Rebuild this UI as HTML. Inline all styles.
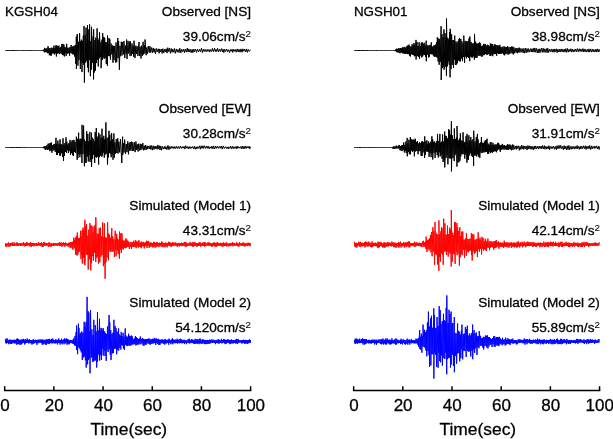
<!DOCTYPE html>
<html><head><meta charset="utf-8"><style>
html,body{margin:0;padding:0;background:#fff;}
body{width:613px;height:439px;overflow:hidden;position:relative;font-family:"Liberation Sans",sans-serif;}
svg{position:absolute;left:0;top:0;will-change:transform;}
text{font-family:"Liberation Sans",sans-serif;fill:#000;stroke:#000;stroke-width:0.3px;}
</style></head><body>
<svg width="613" height="439" viewBox="0 0 613 439">

<text x="5.0" y="16.4" font-size="13.4">KGSH04</text>
<polyline points="5.30,50.50 6.47,50.50 7.83,50.50 8.86,50.50 9.71,50.50 10.89,50.50 11.84,50.50 12.93,50.50 14.12,50.50 14.90,50.50 15.81,50.50 16.79,50.50 17.61,50.50 18.43,50.50 19.38,50.50 20.39,50.50 21.08,50.50 21.75,50.50 22.79,50.50 23.82,50.50 24.65,50.50 25.47,50.50 26.15,50.50 26.96,50.50 27.78,50.50 28.40,50.50 29.19,50.50 30.03,50.50 30.86,50.50 31.68,50.50 32.22,50.50 32.74,50.50 33.28,50.50 34.07,50.50 34.54,50.50 35.17,50.50 35.78,50.50 36.50,50.50 37.16,50.50 37.79,50.50 38.23,50.50 38.69,50.50 39.24,50.50 39.64,50.50 40.06,50.50 40.47,50.50 40.86,50.50 41.26,50.50 41.65,50.50 42.18,50.57 42.59,49.98 43.11,51.06 43.66,49.60 44.27,52.25 44.73,47.86 45.24,52.27 45.86,48.66 46.30,52.18 46.87,48.32 47.44,53.16 48.04,46.22 48.52,52.94 48.90,47.87 49.29,55.19 49.90,48.43 50.42,55.47 50.90,48.38 51.36,55.50 51.80,47.57 52.34,53.40 52.90,48.05 53.42,53.39 53.96,45.64 54.42,54.42 54.86,47.88 55.47,53.26 55.87,45.36 56.37,56.47 56.81,45.44 57.20,53.82 57.76,45.99 58.32,53.14 58.90,45.63 59.31,54.16 59.71,47.88 60.19,53.21 60.66,46.96 61.26,53.71 61.81,43.97 62.40,55.04 62.96,43.89 63.39,55.25 63.92,44.65 64.40,56.45 64.79,46.90 65.31,53.44 65.76,47.58 66.19,55.94 66.66,43.78 67.24,53.75 67.83,47.70 68.39,53.25 68.98,47.78 69.60,55.65 70.02,47.11 70.49,52.94 71.10,45.06 71.71,53.36 72.29,46.64 72.71,54.24 73.20,46.30 73.61,54.47 74.14,45.73 74.69,56.62 75.29,44.95 75.85,63.97 76.34,36.62 76.40,69.00 77.20,34.00 77.95,65.61 78.44,41.80 78.90,59.99 79.60,33.20 80.36,69.00 80.41,41.11 81.01,62.41 81.40,39.72 82.02,72.08 82.49,40.75 82.86,62.97 83.31,35.72 83.79,64.61 84.00,26.00 84.40,82.60 85.21,34.82 85.75,62.58 86.00,27.60 86.72,60.77 87.50,25.20 87.55,67.40 87.94,40.15 88.41,72.26 88.84,29.39 89.33,59.88 89.60,24.40 90.40,76.20 90.76,41.00 91.37,69.63 91.50,26.80 92.55,62.89 93.10,36.44 93.55,79.40 93.60,29.20 94.32,72.60 94.90,40.06 95.50,70.60 95.75,37.62 96.37,63.07 97.10,28.40 97.41,60.09 97.80,38.20 98.28,66.48 98.77,40.28 99.34,58.34 99.50,32.40 100.50,57.04 100.96,42.28 101.10,68.20 101.94,39.67 102.32,59.98 102.70,33.20 103.21,57.66 103.75,36.96 104.24,58.89 104.67,37.76 105.24,58.06 105.77,41.95 106.27,64.14 106.80,42.45 107.45,65.80 107.50,35.50 108.34,56.02 109.00,38.00 109.23,56.21 109.81,39.36 110.43,59.64 111.09,43.53 111.80,54.41 112.30,45.27 113.00,62.70 113.45,45.88 113.99,60.13 114.70,45.89 115.53,62.46 116.05,42.40 116.69,62.26 117.80,38.00 118.01,58.17 118.62,41.01 119.40,69.80 119.95,45.84 120.59,56.21 121.29,41.73 122.00,55.51 122.60,42.00 123.41,54.33 123.98,41.04 124.81,58.06 125.62,45.56 126.18,53.81 126.60,39.50 127.00,59.00 128.00,40.88 128.69,53.54 129.37,41.90 130.07,56.14 130.12,41.00 131.35,55.64 132.01,43.45 132.56,53.86 133.09,45.80 133.71,56.87 134.00,40.70 135.00,58.00 135.84,45.65 136.45,54.03 137.13,46.23 137.92,55.87 139.00,42.00 139.39,56.06 140.10,46.72 141.00,58.50 141.63,45.64 142.30,56.04 143.13,41.85 143.67,54.46 144.42,45.01 144.97,53.43 145.02,39.50 146.17,55.20 146.78,47.39 147.38,53.71 148.29,46.15 149.18,52.70 149.90,46.11 150.76,52.65 151.73,47.52 152.52,52.64 153.29,48.02 154.08,52.37 154.80,48.80 155.48,53.81 156.35,48.40 157.29,51.89 158.23,48.79 159.11,53.32 159.76,48.91 160.60,51.96 161.42,49.05 162.18,53.48 162.84,48.63 163.80,52.95 164.86,49.20 165.53,51.93 166.20,48.81 167.09,53.12 167.80,47.65 168.74,51.64 169.63,48.19 170.43,53.34 171.37,48.53 172.05,52.29 172.70,49.17 173.68,52.27 174.43,48.43 175.29,53.35 176.35,48.96 177.19,52.23 178.03,49.44 178.97,52.62 179.76,48.21 180.82,52.91 181.72,49.23 182.74,51.68 183.77,49.20 184.43,52.76 185.37,49.22 186.30,52.11 187.29,48.15 188.03,51.98 188.69,48.91 189.59,51.97 190.30,49.39 191.16,52.70 192.15,49.33 192.83,52.73 193.75,49.25 194.41,51.74 195.41,49.00 196.45,52.43 197.48,49.17 198.55,51.89 199.40,49.31 200.43,51.69 201.51,48.16 202.42,52.71 203.37,49.24 204.16,51.54 205.16,49.33 206.21,51.76 207.15,49.42 207.92,51.40 208.95,49.47 209.72,52.09 210.62,49.57 211.68,51.59 212.40,48.35 213.47,51.68 214.55,48.34 215.28,51.53 215.99,49.35 216.76,51.64 217.57,48.28 218.63,51.78 219.68,49.18 220.55,51.54 221.60,48.57 222.44,51.84 223.13,49.30 223.81,52.55 224.65,49.22 225.64,51.52 226.59,49.00 227.70,51.79 228.54,49.69 229.54,52.60 230.46,49.45 231.25,51.30 232.07,49.28 232.77,52.42 233.46,49.26 234.31,51.31 235.14,49.45 236.17,52.23 237.14,48.90 238.24,51.96 238.98,49.27 240.06,52.25 241.00,48.89 242.04,52.24 242.86,48.85 243.91,51.26 244.68,48.96 245.71,51.97 246.64,48.94 247.46,52.28 248.31,49.45 249.34,51.33 250.40,49.72" fill="none" stroke="#000" stroke-width="1.0" stroke-linejoin="miter"/>
<text x="251.0" y="16.0" font-size="13.6" text-anchor="end">Observed [NS]</text>
<text x="251.0" y="41.3" font-size="13.6" text-anchor="end">39.06cm/s<tspan font-size="9.8" dy="-4.8" style="stroke-width:0.1px">2</tspan></text>
<polyline points="5.30,147.50 6.38,147.50 7.42,147.50 8.67,147.50 9.54,147.50 10.85,147.50 11.92,147.50 12.91,147.50 13.96,147.50 14.76,147.50 15.75,147.50 16.96,147.50 17.84,147.50 18.92,147.50 20.01,147.50 20.86,147.50 21.72,147.50 22.54,147.50 23.37,147.50 24.23,147.50 25.23,147.50 25.99,147.50 26.77,147.50 27.43,147.50 28.18,147.50 28.79,147.50 29.50,147.50 30.37,147.50 30.89,147.50 31.65,147.50 32.21,147.50 32.73,147.50 33.35,147.50 34.04,147.50 34.52,147.50 35.03,147.50 35.63,147.50 36.22,147.50 36.74,147.50 37.25,147.50 37.80,147.50 38.43,147.50 38.99,147.50 39.54,147.50 40.11,147.50 40.56,147.50 40.96,147.50 41.45,147.50 41.83,147.50 42.43,147.66 42.97,147.19 43.37,148.08 43.76,146.63 44.37,148.51 44.77,146.01 45.32,149.97 45.78,146.41 46.29,149.41 46.85,145.30 47.47,149.94 48.09,143.72 48.70,149.50 49.23,143.36 49.82,151.17 50.42,142.98 50.88,150.47 51.31,142.48 51.86,152.76 52.36,145.32 52.97,150.55 53.55,144.48 54.17,150.26 54.62,143.95 55.23,151.82 56.00,137.80 56.50,154.70 56.80,143.75 57.42,155.09 57.89,140.61 58.50,152.91 58.99,143.92 59.59,155.36 60.00,139.30 60.50,155.70 60.95,144.15 61.37,153.16 61.94,144.57 62.51,156.90 63.00,138.30 63.50,160.90 63.92,144.57 64.42,155.95 64.90,143.08 65.50,151.97 66.00,137.30 66.50,152.70 66.89,141.69 67.35,150.21 67.96,144.57 68.35,153.05 68.79,143.24 69.24,151.16 70.00,139.90 70.50,154.70 70.96,142.28 71.41,153.23 71.98,140.62 72.56,155.25 72.98,140.10 73.50,156.00 74.00,139.90 74.44,151.96 74.97,141.93 75.57,152.83 76.40,136.70 77.20,159.80 77.26,138.76 77.86,158.07 78.67,132.70 78.72,154.20 79.33,139.63 79.87,157.23 80.25,138.62 80.86,154.31 81.44,139.24 81.95,163.00 82.00,124.80 82.95,154.11 83.60,125.60 84.40,166.20 84.53,139.60 85.12,162.90 85.73,141.13 86.15,162.76 86.70,131.10 87.29,156.52 87.86,133.88 88.30,161.40 88.65,141.46 89.12,155.08 89.90,131.90 90.04,162.07 90.43,140.24 90.85,160.04 91.50,132.70 91.55,167.00 92.15,137.57 92.61,158.89 93.15,138.93 93.77,154.87 94.25,141.42 94.70,163.00 95.16,132.07 95.54,156.83 96.30,128.00 96.50,157.61 97.11,137.13 97.52,156.68 97.98,136.54 98.65,164.60 98.70,132.70 99.52,157.15 99.99,134.43 100.54,155.63 101.08,137.55 101.90,156.70 101.96,128.69 102.41,155.24 102.81,138.10 103.31,152.84 103.79,135.79 104.30,157.68 104.69,139.36 105.22,154.60 105.90,122.40 106.43,153.50 107.00,137.69 107.50,164.60 108.30,137.50 108.40,157.35 108.94,130.73 109.51,152.86 109.89,134.61 110.33,153.74 110.71,141.24 111.17,157.28 111.62,133.13 112.22,155.03 112.73,139.30 113.00,159.80 113.90,133.50 114.29,157.81 114.85,142.37 115.52,153.65 116.22,139.11 116.82,153.00 117.80,138.30 118.04,153.54 118.86,141.70 119.68,152.40 120.49,139.03 121.80,163.00 122.60,136.70 122.75,154.99 123.36,143.13 124.05,152.52 124.65,139.61 125.51,153.76 126.23,143.94 127.05,152.18 127.79,141.35 128.52,154.30 129.09,143.18 129.68,150.60 130.21,141.96 130.74,150.41 131.57,141.60 132.16,151.04 132.85,142.23 133.67,150.91 134.54,142.43 135.11,152.12 135.91,141.47 136.70,149.89 137.24,144.27 138.08,151.55 138.62,143.70 139.41,150.52 140.27,143.80 140.85,150.14 141.39,144.31 142.05,149.31 142.80,143.03 143.58,150.28 144.25,145.76 144.96,150.05 145.56,145.07 146.35,149.60 147.15,145.76 147.76,149.12 148.44,146.04 149.25,148.83 150.11,145.55 150.79,149.41 151.47,145.60 152.34,150.18 153.13,145.70 154.03,149.55 154.97,145.98 155.74,148.83 156.40,146.33 157.11,149.27 157.88,144.96 158.59,149.02 159.39,145.72 160.03,150.02 160.70,145.95 161.57,150.20 162.37,146.38 163.44,149.08 164.34,146.51 165.20,149.10 165.85,146.43 166.95,149.67 167.97,145.41 168.95,149.76 169.71,146.53 170.44,148.62 171.30,146.42 172.02,148.41 172.96,146.54 174.00,148.62 174.85,146.54 175.69,148.60 176.60,146.34 177.42,148.48 178.45,146.55 179.33,148.57 180.38,146.02 181.36,148.38 182.23,146.61 183.08,148.24 184.06,146.38 184.90,149.08 185.66,145.71 186.73,148.21 187.56,146.55 188.26,148.94 189.18,146.52 190.09,148.58 190.86,146.78 191.73,148.31 192.69,146.53 193.80,149.03 194.55,146.15 195.50,149.25 196.22,146.82 196.93,148.86 197.68,146.65 198.64,148.38 199.59,145.79 200.34,149.20 201.18,145.83 202.01,148.39 202.91,145.76 203.67,148.41 204.55,145.78 205.57,148.43 206.63,146.20 207.33,148.29 208.13,145.97 209.23,148.94 210.08,146.75 211.17,148.36 211.89,146.16 212.90,148.94 213.61,145.89 214.69,148.93 215.70,145.98 216.74,148.39 217.66,146.27 218.70,148.39 219.79,146.25 220.72,148.34 221.41,146.01 222.29,149.08 223.26,145.92 224.31,148.46 225.39,146.82 226.38,148.44 227.13,146.82 228.19,148.88 228.94,146.85 229.67,148.34 230.58,146.23 231.35,148.74 232.33,146.29 233.10,148.65 234.02,146.68 234.86,148.47 235.79,146.66 236.48,148.69 237.16,146.03 237.93,148.44 238.71,146.73 239.67,148.16 240.64,146.62 241.39,148.91 242.17,146.06 243.15,148.87 244.12,146.20 244.86,148.73 245.93,146.13 246.62,148.30 247.31,146.58 248.27,148.08 249.09,146.18 249.79,148.88 250.40,146.81" fill="none" stroke="#000" stroke-width="1.0" stroke-linejoin="miter"/>
<text x="251.0" y="113.0" font-size="13.6" text-anchor="end">Observed [EW]</text>
<text x="251.0" y="138.3" font-size="13.6" text-anchor="end">30.28cm/s<tspan font-size="9.8" dy="-4.8" style="stroke-width:0.1px">2</tspan></text>
<polyline points="5.30,243.36 5.82,246.72 6.34,243.46 6.74,246.80 7.33,243.47 7.93,245.55 8.48,242.46 8.87,246.76 9.48,243.51 9.98,246.49 10.40,243.14 10.81,245.70 11.23,243.05 11.61,245.44 12.16,242.34 12.61,245.95 13.01,243.49 13.60,245.86 14.09,242.32 14.62,245.97 15.03,243.39 15.64,245.47 16.26,243.16 16.74,245.72 17.12,242.15 17.67,245.89 18.16,243.51 18.57,245.59 19.16,243.18 19.57,245.53 20.17,243.12 20.69,245.90 21.18,243.22 21.70,245.69 22.30,243.43 22.79,245.48 23.38,242.17 23.77,245.63 24.26,243.25 24.84,246.46 25.34,243.21 25.93,246.02 26.47,242.07 27.09,246.03 27.51,242.64 28.11,245.43 28.57,243.54 29.09,245.52 29.67,242.89 30.08,246.35 30.59,242.34 31.09,246.91 31.55,243.20 32.07,245.84 32.59,243.10 32.98,245.66 33.39,243.08 33.92,246.38 34.44,243.30 35.00,245.47 35.57,243.51 36.05,246.08 36.43,243.12 36.87,245.85 37.49,243.57 38.03,245.75 38.46,242.11 39.03,245.57 39.55,243.26 39.95,245.56 40.40,243.09 40.95,246.10 41.51,242.12 42.08,246.92 42.55,243.51 43.03,246.96 43.62,242.06 44.14,246.03 44.74,242.51 45.34,245.78 45.88,243.06 46.36,245.52 46.97,242.99 47.44,245.56 47.95,243.30 48.56,246.95 49.01,242.14 49.40,245.66 49.88,243.03 50.35,246.66 50.97,243.50 51.37,246.43 51.77,243.36 52.29,245.65 52.85,243.51 53.26,246.01 53.63,242.98 54.23,245.64 54.62,243.41 55.09,245.61 55.51,243.19 56.11,245.49 56.55,243.54 56.98,245.82 57.45,243.16 57.92,245.53 58.52,242.91 58.96,245.50 59.54,242.38 59.94,246.00 60.40,242.76 60.89,245.91 61.42,242.47 61.95,246.84 62.41,243.19 62.95,245.85 63.45,242.22 63.99,245.50 64.50,243.15 64.89,246.65 65.47,242.43 65.96,245.58 66.56,243.42 67.03,245.87 67.57,243.49 68.08,246.66 68.57,242.76 69.03,246.44 69.60,242.69 70.14,247.94 70.59,242.39 71.02,246.93 71.53,241.98 72.01,248.22 72.46,241.79 72.90,249.70 73.90,237.50 74.10,248.22 74.70,239.82 75.56,254.40 75.61,237.59 75.99,254.72 76.61,235.89 77.07,255.57 77.30,232.50 77.91,254.51 78.37,237.95 78.86,251.92 79.36,237.94 79.74,251.81 80.60,230.80 80.93,258.86 81.35,236.55 81.79,254.67 82.17,229.83 82.30,263.60 83.08,227.52 83.48,257.77 83.94,229.98 84.33,263.56 84.90,219.80 84.95,265.30 85.80,226.10 86.35,254.44 86.50,224.00 87.35,254.88 87.82,235.77 88.20,269.60 88.80,229.61 89.35,259.30 89.90,223.20 90.80,270.40 90.98,225.30 91.56,263.24 92.05,225.95 92.54,256.25 92.97,231.95 93.40,260.60 94.02,226.48 94.51,252.75 95.02,224.83 95.75,262.00 95.80,217.30 96.79,258.10 97.20,233.47 97.79,256.55 98.40,233.89 98.45,263.60 99.20,228.20 99.80,262.35 100.38,227.53 100.98,256.74 101.51,236.30 102.08,255.09 102.60,222.30 103.40,266.20 103.69,237.16 104.13,263.96 104.30,223.20 105.10,278.80 105.53,237.44 106.00,262.22 106.51,237.75 107.07,257.82 107.60,222.30 108.50,260.30 108.66,233.60 109.14,250.43 109.62,235.01 110.14,251.87 110.67,237.78 111.07,250.87 111.80,228.20 112.08,252.03 112.69,236.27 113.28,251.22 113.85,239.15 114.40,256.90 115.20,230.80 115.33,249.58 115.72,239.66 116.09,256.42 116.68,233.80 117.30,250.86 117.71,238.41 118.21,254.04 118.82,239.64 119.40,258.60 119.48,231.60 120.37,249.91 120.77,233.25 121.32,253.02 122.00,233.30 122.35,248.59 122.85,239.79 123.37,249.64 123.83,240.79 124.24,247.69 124.73,240.63 125.24,248.28 125.84,238.36 126.40,247.89 126.80,239.46 127.41,246.94 127.80,240.67 128.36,246.64 128.77,241.67 129.39,249.09 130.01,242.34 130.59,246.89 131.10,241.85 131.54,248.97 132.12,242.17 132.62,246.73 133.04,242.51 133.43,246.95 133.81,240.68 134.30,246.59 134.71,242.50 135.12,247.09 135.73,240.10 136.12,248.21 136.63,241.67 137.16,246.43 137.78,241.40 138.29,247.67 138.88,240.11 139.42,246.66 139.89,242.24 140.29,247.11 140.82,242.50 141.26,248.34 141.65,241.46 142.20,246.46 142.72,242.61 143.26,246.15 143.77,241.88 144.21,248.45 144.69,242.95 145.13,246.05 145.68,242.15 146.07,246.27 146.47,240.75 147.00,248.06 147.62,241.36 148.06,246.01 148.60,240.91 149.23,248.00 149.76,242.70 150.14,246.52 150.59,242.55 151.14,246.69 151.63,242.70 152.24,246.72 152.66,243.08 153.04,247.55 153.53,241.89 154.09,246.41 154.58,241.97 155.03,247.47 155.57,242.83 156.06,247.25 156.47,242.44 157.06,246.55 157.50,242.24 157.98,246.03 158.54,243.02 159.01,247.09 159.51,242.61 160.09,245.77 160.48,242.94 161.06,246.43 161.54,241.51 162.02,246.80 162.42,242.00 163.01,247.33 163.58,243.31 164.08,246.50 164.64,243.12 165.10,247.35 165.66,242.64 166.18,246.27 166.78,242.88 167.18,247.37 167.75,243.23 168.21,245.92 168.77,241.73 169.29,245.82 169.80,241.99 170.19,245.73 170.66,243.02 171.05,246.94 171.65,242.93 172.18,246.11 172.69,241.95 173.08,246.11 173.69,242.75 174.07,245.77 174.63,242.79 175.12,245.79 175.66,242.39 176.19,245.63 176.68,243.39 177.21,246.75 177.60,242.98 178.05,245.68 178.54,243.12 179.16,246.44 179.68,243.22 180.16,245.73 180.72,243.09 181.10,245.88 181.49,242.70 181.91,246.29 182.51,243.14 183.01,245.97 183.50,242.75 184.05,245.91 184.64,241.93 185.21,246.66 185.82,241.95 186.32,246.59 186.87,243.34 187.47,246.06 187.89,243.42 188.49,245.50 188.97,243.25 189.38,245.66 189.98,241.89 190.56,245.60 191.07,243.15 191.47,245.75 191.87,242.69 192.42,246.51 192.90,241.90 193.46,246.82 193.87,242.74 194.41,245.96 194.90,241.92 195.41,245.66 195.82,243.14 196.22,245.58 196.60,243.39 197.01,246.88 197.50,243.37 197.90,246.04 198.33,243.29 198.79,245.94 199.22,242.15 199.62,245.95 200.10,242.18 200.71,246.62 201.11,243.52 201.67,245.70 202.05,242.98 202.62,245.82 203.03,242.41 203.48,245.89 204.10,242.09 204.54,246.62 204.94,242.01 205.47,245.80 205.90,243.03 206.47,245.55 207.02,243.45 207.62,245.65 208.02,242.06 208.45,245.61 209.06,242.40 209.50,245.65 209.89,243.01 210.27,245.65 210.81,243.04 211.42,246.54 211.82,243.42 212.40,246.52 212.86,243.02 213.38,245.49 213.80,242.43 214.18,245.86 214.65,242.63 215.06,246.73 215.62,243.05 216.18,246.71 216.58,242.81 217.00,246.24 217.50,242.07 218.02,245.81 218.59,243.19 219.06,245.94 219.50,243.36 220.01,245.53 220.45,242.79 221.06,246.47 221.55,243.33 221.95,245.51 222.33,243.07 222.88,246.79 223.29,242.45 223.72,245.88 224.15,243.13 224.61,245.98 225.10,243.12 225.69,245.91 226.16,242.31 226.75,246.48 227.23,243.45 227.81,245.79 228.21,243.42 228.78,246.33 229.38,243.35 229.97,246.14 230.40,243.41 230.87,245.92 231.31,243.05 231.91,245.64 232.46,242.24 232.92,246.33 233.36,243.10 233.81,245.69 234.43,243.06 234.91,245.76 235.50,243.58 236.01,245.66 236.62,242.26 237.10,246.01 237.59,243.25 238.04,246.42 238.52,243.60 239.03,246.58 239.58,242.34 240.19,245.42 240.61,243.41 241.24,245.86 241.80,243.31 242.37,245.80 242.78,242.66 243.16,245.43 243.73,242.55 244.17,246.40 244.57,243.62 244.96,246.43 245.45,243.12 245.83,245.88 246.43,243.63 246.85,245.58 247.24,243.13 247.79,246.10 248.22,242.69 248.72,245.38 249.13,242.91 249.58,245.59 250.19,243.08 250.40,246.27" fill="none" stroke="#f00" stroke-width="1.0" stroke-linejoin="miter"/>
<text x="251.0" y="210.0" font-size="13.6" text-anchor="end">Simulated (Model 1)</text>
<text x="251.0" y="235.3" font-size="13.6" text-anchor="end">43.31cm/s<tspan font-size="9.8" dy="-4.8" style="stroke-width:0.1px">2</tspan></text>
<polyline points="5.30,339.25 5.77,343.27 6.17,338.74 6.63,343.48 7.10,338.39 7.64,342.98 8.19,340.18 8.80,344.21 9.28,339.57 9.88,343.38 10.38,339.78 10.86,344.02 11.40,339.83 11.79,343.96 12.37,340.10 12.82,342.95 13.29,339.90 13.88,343.20 14.37,339.63 14.77,343.45 15.31,340.11 15.79,343.40 16.40,338.98 16.78,344.65 17.34,338.39 17.79,344.34 18.32,339.11 18.70,343.87 19.32,339.74 19.89,344.72 20.45,339.92 20.90,344.71 21.29,339.54 21.85,344.15 22.38,339.40 22.89,342.96 23.42,338.95 23.85,343.06 24.36,340.21 24.75,344.51 25.18,339.10 25.62,343.27 26.12,339.76 26.69,342.81 27.18,338.53 27.74,342.83 28.35,339.82 28.87,343.50 29.40,339.28 29.96,343.09 30.42,340.30 30.95,343.26 31.53,340.26 31.94,344.54 32.35,340.21 32.84,343.55 33.38,339.09 33.78,343.69 34.31,340.31 34.89,343.11 35.36,339.75 35.97,342.83 36.50,339.99 36.92,344.74 37.31,339.87 37.84,343.17 38.36,339.70 38.90,343.15 39.51,339.67 40.13,342.79 40.59,339.53 41.15,342.94 41.68,339.69 42.25,344.64 42.72,339.60 43.19,344.41 43.72,339.86 44.30,343.47 44.85,339.76 45.43,344.78 45.91,339.82 46.45,344.62 46.86,339.09 47.28,343.29 47.68,339.89 48.26,343.80 48.73,339.10 49.23,344.08 49.75,338.78 50.30,343.00 50.77,340.21 51.19,343.26 51.72,338.90 52.34,343.38 52.79,338.43 53.29,343.14 53.73,340.08 54.33,343.37 54.89,340.07 55.35,343.36 55.87,339.05 56.33,343.09 56.92,340.01 57.44,344.38 57.95,339.75 58.34,342.86 58.74,338.44 59.23,343.01 59.67,340.19 60.10,344.60 60.71,339.94 61.16,342.94 61.60,338.71 62.15,344.34 62.56,340.26 62.98,342.88 63.54,339.57 64.08,344.31 64.62,338.40 65.21,343.29 65.78,338.97 66.17,343.40 66.65,338.46 67.12,344.67 67.74,338.99 68.25,344.14 68.74,339.71 69.27,344.34 69.67,340.07 70.10,342.92 70.68,340.02 71.13,343.14 71.72,340.19 72.33,343.50 72.90,339.77 73.36,344.04 73.87,338.17 74.43,345.41 75.01,335.85 75.62,345.58 76.08,331.96 76.53,349.90 76.60,325.50 77.60,354.20 78.48,323.60 78.53,347.22 78.98,327.87 79.48,348.40 79.97,333.81 80.40,350.19 80.87,332.70 81.26,352.44 81.81,331.48 82.30,359.90 82.91,332.80 83.32,357.60 84.20,321.70 84.31,356.63 84.91,327.02 85.38,360.26 85.99,322.27 86.20,367.60 87.10,296.90 87.61,364.34 88.07,311.16 88.44,359.81 88.86,312.45 89.39,358.30 89.97,330.88 90.02,373.30 90.50,310.20 91.33,357.54 91.88,329.29 92.80,361.80 92.96,334.88 93.52,361.53 93.80,319.80 94.66,360.63 95.26,325.12 95.66,360.44 96.11,331.31 96.70,367.60 97.51,312.20 97.56,361.86 98.17,330.47 98.59,354.43 99.50,318.80 99.65,360.55 100.27,330.47 100.67,355.21 101.05,327.87 101.40,359.90 101.88,328.35 102.33,348.56 102.78,330.38 103.20,355.57 103.40,328.40 104.17,350.95 104.63,331.36 105.03,356.02 105.49,332.97 106.20,360.90 106.54,333.96 106.96,349.95 107.48,326.47 108.10,352.10 109.10,315.00 109.25,349.19 109.76,322.29 110.23,354.75 110.76,329.97 111.00,359.90 111.90,333.63 112.44,353.38 112.99,332.71 113.44,353.01 113.90,319.80 114.52,348.62 115.04,325.90 115.62,348.71 116.08,328.25 116.70,354.20 117.17,331.74 117.63,349.91 118.60,328.40 118.70,350.59 119.25,334.48 119.75,347.79 120.37,335.63 120.82,349.52 121.20,332.05 121.64,345.31 122.10,336.13 122.52,345.37 123.13,332.77 123.40,348.50 123.91,336.73 124.33,349.74 125.28,328.40 125.33,344.79 125.90,335.35 126.33,345.64 126.83,336.74 127.25,346.10 127.69,336.69 128.16,345.22 128.58,333.72 129.09,345.84 129.63,335.79 130.10,345.56 130.52,336.36 131.07,345.43 131.46,335.49 131.96,344.33 132.42,336.52 132.95,344.65 133.35,339.12 133.86,344.18 134.44,338.41 134.92,344.24 135.35,336.12 135.86,345.40 136.32,337.09 136.84,344.93 137.44,338.21 137.93,344.39 138.43,339.36 138.82,344.55 139.30,338.46 139.71,343.58 140.34,336.48 140.95,344.33 141.49,338.91 142.10,343.36 142.49,337.97 143.12,345.52 143.54,338.86 144.08,345.69 144.54,339.34 145.09,343.93 145.56,339.33 145.97,345.02 146.43,339.15 146.98,343.60 147.57,339.12 148.03,343.14 148.56,338.58 148.98,344.04 149.54,338.69 150.14,344.78 150.54,339.50 150.94,344.03 151.48,339.43 151.94,343.74 152.34,338.78 152.89,343.34 153.40,339.34 153.78,343.32 154.23,337.90 154.73,343.06 155.29,338.72 155.70,344.99 156.31,338.44 156.72,342.86 157.16,339.29 157.74,344.10 158.26,338.75 158.85,344.99 159.37,339.69 159.93,344.86 160.33,339.76 160.91,343.13 161.50,339.57 161.92,343.45 162.42,339.41 162.89,343.07 163.36,339.95 163.78,343.84 164.40,339.67 164.78,344.65 165.29,338.92 165.76,343.48 166.19,339.92 166.64,343.26 167.22,339.87 167.76,343.09 168.23,339.68 168.63,344.69 169.09,338.65 169.72,343.01 170.31,340.22 170.93,344.26 171.54,339.59 171.93,342.83 172.45,338.34 172.82,344.23 173.22,339.55 173.82,342.78 174.22,339.95 174.67,343.24 175.14,339.43 175.70,343.18 176.31,340.29 176.68,343.05 177.13,338.73 177.59,343.63 178.00,339.82 178.57,343.02 179.10,339.45 179.70,343.32 180.19,338.70 180.58,342.87 180.99,339.02 181.45,343.23 182.00,339.84 182.55,343.23 183.02,340.20 183.45,343.02 184.01,339.65 184.43,344.07 184.98,339.98 185.60,342.71 185.98,340.32 186.39,344.20 187.02,340.28 187.61,342.70 188.19,339.05 188.79,343.17 189.24,338.74 189.75,343.53 190.26,340.10 190.82,342.65 191.31,339.36 191.70,343.05 192.15,339.36 192.68,343.07 193.11,340.04 193.51,343.55 194.02,339.77 194.62,343.86 195.19,338.84 195.74,343.77 196.15,340.23 196.60,343.29 197.01,339.11 197.50,343.78 197.94,339.07 198.33,343.07 198.75,340.23 199.14,344.16 199.62,338.68 200.22,343.14 200.65,338.72 201.14,343.77 201.72,340.33 202.18,343.76 202.61,339.41 203.00,342.85 203.62,339.50 204.20,344.09 204.63,340.20 205.02,343.99 205.49,340.19 206.00,344.20 206.45,339.99 206.90,343.96 207.48,339.98 208.01,343.87 208.63,340.38 209.06,343.82 209.58,339.66 210.18,343.47 210.62,340.18 211.17,342.73 211.79,339.29 212.41,343.02 213.03,339.64 213.59,342.71 214.09,340.25 214.55,342.93 214.93,339.90 215.47,344.18 216.04,340.26 216.49,342.88 217.09,339.81 217.65,343.23 218.27,339.18 218.83,343.68 219.42,339.82 219.97,343.14 220.48,340.46 220.93,342.74 221.40,338.87 221.99,343.42 222.50,340.22 222.91,342.61 223.45,339.02 223.97,342.86 224.42,339.33 225.02,344.10 225.61,339.82 226.18,343.83 226.60,339.96 227.01,342.73 227.44,339.43 227.84,342.86 228.41,339.67 228.98,343.15 229.44,339.89 229.94,344.18 230.45,340.05 230.96,343.79 231.35,339.45 231.85,342.63 232.43,340.12 232.93,343.59 233.36,340.37 233.74,343.13 234.25,340.10 234.69,342.93 235.14,339.92 235.76,343.51 236.28,338.88 236.67,343.30 237.08,338.99 237.58,343.80 238.14,338.94 238.72,342.75 239.28,340.12 239.87,342.62 240.45,340.24 241.00,342.53 241.39,340.39 241.89,343.67 242.45,340.16 242.91,342.90 243.36,339.68 243.84,343.06 244.31,340.20 244.75,343.93 245.29,339.87 245.87,343.61 246.40,340.15 246.96,343.37 247.38,340.13 247.76,343.83 248.33,340.00 248.92,343.11 249.38,339.45 249.89,342.99 250.33,340.11 250.40,342.61" fill="none" stroke="#00f" stroke-width="1.0" stroke-linejoin="miter"/>
<text x="251.0" y="307.0" font-size="13.6" text-anchor="end">Simulated (Model 2)</text>
<text x="251.0" y="332.3" font-size="13.6" text-anchor="end">54.120cm/s<tspan font-size="9.8" dy="-4.8" style="stroke-width:0.1px">2</tspan></text>
<path d="M3.95 390.6H251.35" stroke="#000" stroke-width="1.5"/>
<path d="M4.70 386.2V390.6" stroke="#000" stroke-width="1.5"/>
<text x="5.0" y="411" font-size="17" text-anchor="middle">0</text>
<path d="M53.88 386.2V390.6" stroke="#000" stroke-width="1.5"/>
<text x="54.2" y="411" font-size="17" text-anchor="middle">20</text>
<path d="M103.06 386.2V390.6" stroke="#000" stroke-width="1.5"/>
<text x="103.4" y="411" font-size="17" text-anchor="middle">40</text>
<path d="M152.24 386.2V390.6" stroke="#000" stroke-width="1.5"/>
<text x="152.5" y="411" font-size="17" text-anchor="middle">60</text>
<path d="M201.42 386.2V390.6" stroke="#000" stroke-width="1.5"/>
<text x="201.7" y="411" font-size="17" text-anchor="middle">80</text>
<path d="M250.60 386.2V390.6" stroke="#000" stroke-width="1.5"/>
<text x="250.9" y="411" font-size="17" text-anchor="middle">100</text>
<text x="128.8" y="434.5" font-size="17.4" text-anchor="middle">Time(sec)</text>
<text x="353.9" y="16.4" font-size="13.4">NGSH01</text>
<polyline points="354.25,50.50 355.28,50.50 356.59,50.50 357.89,50.50 359.07,50.50 360.23,50.50 361.21,50.50 362.06,50.50 363.05,50.50 364.31,50.50 365.19,50.50 366.05,50.50 367.14,50.50 368.01,50.50 368.77,50.50 369.62,50.50 370.67,50.50 371.72,50.50 372.53,50.50 373.39,50.50 374.42,50.50 375.30,50.50 375.96,50.50 376.90,50.50 377.55,50.50 378.16,50.50 378.74,50.50 379.43,50.50 380.03,50.50 380.71,50.50 381.54,50.50 382.34,50.50 383.04,50.50 383.58,50.50 384.29,50.50 384.99,50.50 385.52,50.50 386.12,50.50 386.63,50.50 387.08,50.50 387.72,50.50 388.24,50.50 388.83,50.50 389.33,50.50 389.79,50.50 390.22,50.50 390.72,50.50 391.31,50.50 391.86,50.50 392.44,50.50 392.84,50.50 393.35,50.50 393.83,50.31 394.32,50.96 394.85,50.05 395.38,51.17 395.87,49.19 396.40,51.48 396.83,48.57 397.21,52.50 397.69,49.28 398.19,51.96 398.59,48.28 399.17,52.90 399.63,48.49 400.06,53.33 400.52,48.14 400.98,52.18 401.38,48.27 401.81,52.74 402.35,47.50 402.73,53.35 403.11,47.40 403.59,53.37 404.13,46.89 404.64,53.88 405.16,47.77 405.70,53.94 406.17,46.76 406.74,53.78 407.21,45.77 407.63,54.10 408.10,45.42 408.59,54.10 409.06,44.61 409.48,55.69 409.91,46.34 410.43,56.52 410.98,46.62 411.58,54.26 412.11,44.30 412.52,54.65 413.00,45.50 413.44,55.05 413.93,43.00 414.41,56.28 414.82,44.64 415.39,56.02 416.00,39.90 416.05,59.50 416.97,41.97 417.51,56.12 418.10,45.96 418.59,56.87 419.13,42.24 419.56,58.84 420.18,46.13 420.68,55.50 421.22,42.77 421.78,57.46 422.18,42.25 422.70,56.38 423.17,43.92 423.73,55.05 424.17,42.77 424.66,55.04 425.11,45.43 425.56,56.79 426.20,40.70 426.25,61.20 427.03,44.94 427.64,54.65 428.04,46.30 428.64,57.47 429.02,45.16 429.43,56.63 430.05,44.94 430.60,54.10 431.30,42.40 431.58,54.27 432.02,46.35 432.49,54.20 432.92,46.71 433.32,55.60 433.80,45.61 434.32,56.85 434.86,45.05 435.25,56.44 435.63,44.51 436.24,57.04 436.62,42.01 437.11,57.64 437.30,37.30 438.15,61.54 438.77,38.51 439.16,64.73 439.72,39.16 440.28,62.02 441.10,26.20 441.20,80.00 441.96,33.99 442.47,68.11 443.02,37.23 443.43,66.52 443.95,29.40 444.10,69.80 445.09,33.21 445.48,66.71 445.87,37.15 446.44,75.70 446.49,18.50 447.29,66.45 447.79,37.77 448.20,61.41 448.61,39.51 449.18,64.63 449.58,32.07 450.10,77.40 450.20,28.80 451.05,69.06 451.62,34.39 452.22,64.94 452.81,40.06 453.50,68.00 453.81,40.04 454.34,59.76 454.70,35.60 455.34,65.01 455.93,41.24 456.45,64.67 456.86,42.77 457.40,63.32 458.00,41.35 458.53,60.56 458.92,38.96 459.46,61.20 459.51,38.20 460.46,61.39 460.85,38.92 461.41,58.52 461.92,41.30 462.50,61.09 463.10,43.38 463.59,56.88 463.80,35.60 464.60,62.90 465.08,40.87 465.69,56.57 466.13,41.15 466.57,58.33 467.02,42.13 467.47,56.94 467.92,41.04 468.51,57.81 469.00,38.44 469.75,61.20 469.80,36.50 470.61,56.58 471.02,41.90 471.55,57.31 471.98,43.34 472.36,57.53 472.84,43.62 473.43,56.40 473.93,43.08 474.38,59.66 474.50,33.90 475.17,58.03 475.63,41.66 476.13,57.46 476.60,43.44 477.03,57.76 477.53,43.76 478.10,55.73 478.71,43.03 479.15,55.85 479.65,42.31 480.15,55.56 480.59,43.48 481.13,56.36 481.58,46.16 482.17,56.66 482.62,45.65 483.22,55.15 483.62,43.85 484.04,55.16 484.42,44.59 484.80,54.26 485.19,43.91 485.77,54.05 486.27,45.51 486.86,54.86 487.43,44.76 487.83,54.44 488.31,45.10 488.82,53.93 489.42,46.29 489.97,55.88 490.36,43.57 490.74,55.99 491.33,43.80 491.93,55.14 492.37,44.10 492.76,56.21 493.31,46.26 493.73,53.76 494.24,44.44 494.73,54.17 495.24,44.49 495.68,54.05 496.15,44.98 496.66,55.78 497.27,45.63 497.67,53.25 498.14,45.32 498.52,53.70 499.02,45.91 499.42,53.96 499.84,44.88 500.32,53.80 500.84,46.84 501.31,53.76 501.93,47.40 502.49,53.18 502.92,46.63 503.59,54.51 504.13,46.39 504.65,55.34 505.23,46.87 505.78,53.88 506.47,47.14 506.97,54.20 507.58,46.11 508.22,54.59 508.90,47.09 509.67,54.08 510.23,47.02 511.00,53.11 511.62,46.52 512.18,53.45 512.75,46.67 513.29,54.41 513.97,47.29 514.53,53.18 515.38,48.32 516.04,52.62 516.71,48.21 517.36,53.29 518.00,47.91 518.58,52.37 519.27,47.68 519.92,52.56 520.92,48.33 521.86,52.33 522.58,48.74 523.26,52.87 523.89,48.32 524.73,53.15 525.68,48.04 526.39,52.75 527.14,48.63 527.95,52.33 528.61,48.62 529.61,52.14 530.59,48.65 531.33,51.97 531.95,48.72 532.69,52.10 533.39,48.34 534.11,52.11 534.77,47.95 535.50,52.25 536.31,48.32 537.31,53.05 538.17,48.90 538.98,53.06 539.75,48.83 540.62,52.33 541.42,48.12 542.42,52.37 543.15,48.20 543.99,52.39 544.82,48.83 545.59,52.34 546.46,48.64 547.13,52.74 547.75,48.27 548.71,52.47 549.68,49.10 550.64,51.77 551.63,48.94 552.27,52.19 553.18,49.04 554.04,52.31 554.77,48.91 555.50,51.71 556.43,48.83 557.07,52.65 557.86,49.34 558.71,52.07 559.47,49.17 560.13,52.09 561.11,48.88 562.06,51.88 562.91,49.07 563.60,52.09 564.43,49.27 565.10,52.17 565.92,48.61 566.69,52.32 567.56,48.47 568.35,52.11 569.06,49.39 569.88,51.60 570.77,48.72 571.53,52.02 572.28,49.01 573.13,52.14 574.14,49.49 574.82,51.60 575.58,49.03 576.47,51.71 577.35,48.59 578.27,51.82 579.30,48.75 580.00,51.53 580.84,48.97 581.81,51.58 582.64,48.66 583.31,51.99 584.01,48.84 584.85,51.74 585.62,49.48 586.32,52.11 587.27,49.33 588.26,52.06 588.97,48.89 589.79,52.14 590.63,48.89 591.66,52.13 592.34,49.16 593.16,51.76 593.94,49.52 594.92,52.06 595.96,49.11 596.84,52.13 597.56,48.88 598.42,51.77 599.10,49.37 599.35,51.74" fill="none" stroke="#000" stroke-width="1.0" stroke-linejoin="miter"/>
<text x="599.9" y="16.0" font-size="13.6" text-anchor="end">Observed [NS]</text>
<text x="599.9" y="41.3" font-size="13.6" text-anchor="end">38.98cm/s<tspan font-size="9.8" dy="-4.8" style="stroke-width:0.1px">2</tspan></text>
<polyline points="354.25,147.50 355.57,147.50 356.56,147.50 357.84,147.50 358.71,147.50 359.98,147.50 361.32,147.50 362.34,147.50 363.36,147.50 364.27,147.50 365.27,147.50 366.46,147.50 367.22,147.50 367.97,147.50 368.74,147.50 369.84,147.50 370.82,147.50 371.51,147.50 372.20,147.50 373.02,147.50 373.83,147.50 374.66,147.50 375.31,147.50 375.92,147.50 376.52,147.50 377.28,147.50 377.99,147.50 378.66,147.50 379.53,147.50 380.06,147.50 380.69,147.50 381.28,147.50 382.08,147.50 382.70,147.50 383.31,147.50 384.04,147.50 384.58,147.50 385.19,147.50 385.79,147.50 386.37,147.50 386.95,147.50 387.55,147.50 388.09,147.50 388.57,147.50 389.10,147.50 389.67,147.50 390.05,147.50 390.65,147.50 391.07,147.48 391.55,147.71 392.14,147.09 392.74,148.60 393.17,146.75 393.55,148.54 394.01,146.31 394.61,148.82 395.13,146.50 395.71,148.52 396.22,145.56 396.84,148.41 397.42,146.48 397.95,148.46 398.47,145.58 398.93,148.52 399.38,144.98 399.99,150.23 400.43,146.02 401.03,150.56 401.57,145.48 402.13,151.10 402.64,145.04 403.23,149.99 403.73,142.43 404.32,152.50 404.84,144.88 405.42,150.88 405.88,141.52 406.26,153.06 407.20,137.90 407.25,156.30 407.83,143.39 408.39,151.93 408.85,139.78 409.34,154.18 410.37,137.10 410.42,154.33 410.91,139.43 411.43,150.62 411.84,139.25 412.44,151.93 412.83,139.99 413.26,150.80 413.70,139.56 414.40,156.30 414.67,140.30 415.14,151.61 415.20,138.70 416.06,151.10 416.48,141.90 417.01,150.98 417.54,141.22 418.09,154.30 418.68,143.53 419.05,151.27 419.52,142.18 419.99,151.01 420.60,143.20 421.13,155.80 421.55,141.57 422.11,156.00 422.64,141.16 423.08,152.37 423.67,142.11 424.65,157.90 424.70,136.30 425.29,154.85 425.89,141.32 426.43,151.34 426.91,140.29 427.33,151.56 427.84,143.82 428.22,151.99 428.68,141.53 429.10,156.82 429.49,143.48 430.07,152.99 430.54,141.78 431.09,157.11 431.90,136.30 432.07,153.37 432.68,139.25 432.73,159.50 433.51,141.81 434.07,152.75 434.64,141.48 435.10,157.90 435.80,142.97 436.28,152.09 436.72,140.94 437.28,155.13 437.50,133.90 438.31,157.49 438.80,141.09 439.25,152.34 439.90,133.90 440.17,156.42 440.59,142.71 441.17,154.71 441.55,141.63 442.05,158.67 442.58,134.45 443.12,162.05 443.68,141.55 444.14,160.32 444.70,131.50 444.75,167.40 445.67,135.73 446.04,158.00 446.51,136.11 447.04,155.44 447.45,138.17 447.90,164.30 448.70,129.10 449.05,158.16 449.57,130.33 450.07,158.57 450.53,134.64 450.94,158.42 451.40,121.20 451.45,171.40 452.28,135.26 452.89,158.18 453.45,139.11 454.25,161.10 454.30,128.40 455.02,155.28 455.45,138.96 455.88,153.65 456.45,137.39 456.96,166.60 457.01,126.00 458.00,162.33 458.38,140.41 458.91,162.22 459.42,138.51 459.98,160.72 460.36,133.34 460.78,156.51 461.21,140.40 461.77,153.92 462.36,141.10 462.83,154.46 463.00,132.30 463.82,153.61 464.33,142.38 464.74,158.65 465.23,141.76 465.63,154.58 466.09,136.20 466.95,162.70 467.00,133.90 467.60,159.54 468.02,141.75 468.49,159.77 468.89,135.27 469.26,155.57 469.81,140.30 470.36,153.22 470.79,136.98 471.38,155.67 471.87,140.55 472.45,156.86 472.98,139.08 473.65,165.80 473.70,130.70 474.70,155.53 475.13,141.53 475.75,155.49 476.32,137.01 476.73,156.40 477.40,133.90 477.52,154.23 478.12,139.51 478.67,156.70 479.25,143.26 479.80,157.90 480.44,142.51 480.93,152.63 481.40,137.10 482.02,153.08 482.44,142.78 482.94,152.67 483.45,143.29 483.88,151.85 484.37,141.69 484.85,152.37 485.27,140.16 485.73,151.76 486.13,140.14 486.74,151.81 487.00,138.70 487.70,153.84 488.21,143.65 488.71,153.73 489.19,144.73 489.63,151.56 490.23,142.25 490.65,153.08 491.04,142.14 491.47,151.84 492.03,144.96 492.42,152.80 492.92,142.73 493.33,151.84 493.79,144.92 494.33,151.29 494.92,144.25 495.48,151.21 495.87,144.81 496.41,152.28 496.87,144.37 497.36,150.51 497.77,142.76 498.25,149.32 498.64,143.02 499.07,149.48 499.59,144.76 500.22,151.80 500.67,145.37 501.06,149.92 501.52,144.82 502.03,149.49 502.59,143.94 503.09,149.24 503.68,145.56 504.12,149.61 504.65,145.19 505.14,149.24 505.69,145.97 506.22,149.75 506.72,145.31 507.19,149.75 507.73,144.15 508.25,149.98 508.78,144.92 509.36,149.09 509.91,144.43 510.42,149.37 511.09,145.45 511.62,150.29 512.43,144.54 512.96,149.83 513.68,144.86 514.55,149.23 515.44,146.12 516.24,149.41 516.88,145.66 517.75,148.64 518.68,145.84 519.35,150.34 520.09,146.34 520.92,149.50 521.55,145.15 522.44,148.87 523.11,145.72 523.83,149.41 524.76,146.11 525.49,148.77 526.19,146.08 527.09,150.04 527.97,145.51 528.76,149.02 529.49,145.83 530.25,149.19 530.97,146.01 531.94,149.34 532.71,146.51 533.39,149.88 534.28,145.97 534.94,149.06 535.58,145.93 536.56,148.79 537.39,146.26 538.40,149.10 539.09,146.00 540.09,148.58 541.06,146.15 541.79,148.80 542.46,145.62 543.35,148.84 544.32,145.60 544.95,149.28 545.89,146.38 546.71,149.09 547.37,146.56 548.30,148.85 548.94,145.72 549.61,149.74 550.42,146.59 551.33,148.56 551.99,146.53 552.65,148.50 553.64,146.11 554.53,149.29 555.45,146.38 556.29,149.64 557.04,145.65 557.97,148.84 558.98,145.25 559.84,148.54 560.70,145.28 561.40,148.58 562.35,146.30 563.25,149.61 564.16,145.60 564.86,149.03 565.59,146.31 566.44,149.70 567.31,145.80 567.99,149.66 568.94,145.42 569.62,149.69 570.52,146.57 571.35,149.25 572.05,146.34 572.80,148.94 573.76,146.46 574.59,149.09 575.22,146.35 576.05,148.86 577.08,145.56 577.72,148.66 578.41,146.45 579.33,149.43 580.11,146.26 580.95,149.00 581.63,146.17 582.54,148.50 583.43,145.80 584.33,148.72 585.24,145.77 586.08,149.48 586.85,146.20 587.62,148.53 588.40,146.25 589.07,148.87 589.71,145.47 590.76,149.59 591.75,145.88 592.64,148.70 593.35,146.61 594.26,148.36 594.93,146.01 595.69,148.29 596.70,145.87 597.58,149.02 598.51,146.48 599.21,149.41 599.35,146.44" fill="none" stroke="#000" stroke-width="1.0" stroke-linejoin="miter"/>
<text x="599.9" y="113.0" font-size="13.6" text-anchor="end">Observed [EW]</text>
<text x="599.9" y="138.3" font-size="13.6" text-anchor="end">31.91cm/s<tspan font-size="9.8" dy="-4.8" style="stroke-width:0.1px">2</tspan></text>
<polyline points="354.25,241.58 354.79,246.41 355.28,242.93 355.76,247.38 356.28,242.84 356.88,247.59 357.40,243.12 357.99,246.14 358.59,241.82 359.19,246.17 359.70,242.30 360.10,247.11 360.55,241.87 361.01,246.04 361.47,242.86 362.02,246.48 362.54,242.78 363.14,246.21 363.72,243.01 364.12,246.01 364.53,242.37 365.02,247.47 365.46,241.57 366.00,246.14 366.60,241.89 367.11,246.62 367.66,242.49 368.28,246.48 368.82,241.49 369.28,245.80 369.88,242.66 370.38,246.85 370.88,242.90 371.49,247.29 372.08,241.50 372.46,247.07 372.85,243.03 373.25,246.30 373.69,242.91 374.28,245.94 374.89,242.78 375.33,246.17 375.73,242.75 376.36,246.26 376.82,243.13 377.43,247.53 377.98,241.58 378.43,247.69 378.93,242.61 379.40,247.21 379.92,242.03 380.45,245.73 380.99,241.78 381.45,246.31 382.04,243.24 382.58,247.36 383.08,243.09 383.64,247.40 384.06,242.16 384.45,247.53 384.83,242.94 385.27,247.33 385.83,242.56 386.45,246.42 386.90,242.86 387.32,246.30 387.74,242.10 388.24,246.51 388.80,242.58 389.25,245.82 389.85,242.63 390.39,245.96 390.78,242.82 391.40,246.47 391.91,241.50 392.43,245.78 392.95,242.89 393.41,247.22 393.86,242.15 394.28,246.65 394.68,243.14 395.14,247.33 395.60,242.85 396.14,247.72 396.74,242.94 397.22,245.82 397.77,242.98 398.18,247.53 398.62,241.90 399.08,247.43 399.46,242.72 399.91,246.14 400.50,241.66 401.10,247.58 401.67,243.16 402.22,246.46 402.70,243.23 403.20,245.89 403.81,241.93 404.19,247.68 404.73,242.89 405.31,245.85 405.73,242.55 406.18,247.22 406.61,242.61 406.99,246.49 407.46,242.21 408.02,246.19 408.41,241.45 409.01,247.53 409.59,241.59 409.98,247.13 410.49,243.06 411.10,246.00 411.61,242.97 412.19,245.96 412.78,243.01 413.25,245.75 413.63,243.12 414.01,246.38 414.40,241.66 414.98,247.05 415.50,242.75 416.01,246.16 416.42,242.28 417.03,245.82 417.54,242.82 418.03,246.04 418.64,242.90 419.03,245.92 419.64,242.72 420.10,246.43 420.59,243.12 421.00,246.24 421.42,243.28 421.91,247.05 422.50,241.51 423.02,246.25 423.44,240.83 423.88,246.76 424.35,242.45 424.76,246.55 425.37,241.46 425.93,248.87 426.10,236.60 427.00,252.00 427.46,240.26 427.94,248.66 428.45,239.54 429.05,250.55 429.52,238.31 430.02,248.97 430.40,234.90 430.98,252.38 431.57,232.01 432.08,256.28 432.90,227.20 433.24,251.72 433.77,230.83 434.60,264.80 435.00,222.10 435.47,254.09 435.96,232.62 436.50,254.94 436.93,234.00 437.54,264.50 437.94,234.90 438.85,270.80 438.90,220.40 439.39,257.11 439.83,234.04 440.42,261.72 440.87,231.27 441.50,253.31 441.55,227.20 442.52,254.64 442.98,228.23 443.20,264.80 443.70,218.70 444.42,251.57 444.93,223.34 445.44,251.41 445.93,234.64 446.40,254.85 446.85,234.49 447.30,251.49 447.50,225.50 448.19,256.60 448.69,234.12 449.25,252.44 449.70,227.66 450.11,253.75 450.72,229.59 451.21,266.50 451.26,210.10 452.21,261.67 452.75,232.65 453.24,253.92 453.76,234.87 454.19,254.42 454.69,222.21 455.15,263.90 455.20,222.10 456.22,251.90 456.90,222.90 457.13,255.18 457.58,227.29 457.98,253.92 458.55,230.90 459.40,265.70 459.80,227.20 460.24,257.44 460.64,236.00 461.20,253.90 461.76,231.60 462.14,255.22 462.80,231.50 463.31,249.86 463.87,239.56 464.50,258.00 464.77,239.73 465.39,249.75 465.83,238.11 466.34,255.81 466.39,233.20 467.25,251.68 467.86,238.93 468.39,252.37 468.88,239.10 469.45,250.95 469.91,238.65 470.48,250.43 471.40,233.20 471.49,255.11 471.96,239.04 472.20,260.50 472.78,233.94 473.30,251.35 473.80,234.64 474.42,253.67 474.95,239.82 475.37,253.04 475.95,239.40 476.49,250.93 477.02,238.55 477.40,257.10 478.20,232.30 478.58,249.16 479.01,239.16 479.39,251.68 480.02,237.69 480.52,248.71 481.04,239.64 481.60,254.50 481.98,236.83 482.58,248.79 483.01,237.81 483.62,250.52 484.20,241.40 484.71,249.38 485.14,238.79 485.66,250.26 486.12,240.67 486.56,251.02 486.98,241.86 487.51,247.49 487.88,238.57 488.42,247.63 489.02,241.35 489.55,250.30 490.09,241.38 490.55,247.75 491.13,241.22 491.76,246.98 492.16,242.11 492.62,247.40 493.21,241.49 493.81,249.68 494.37,241.24 494.87,247.99 495.33,240.86 495.77,248.07 496.32,240.08 496.72,247.21 497.35,242.34 497.95,246.34 498.38,241.40 498.86,248.71 499.37,242.74 499.93,246.63 500.33,242.39 500.75,246.93 501.28,242.79 501.67,246.95 502.27,242.71 502.69,246.64 503.26,242.85 503.64,248.06 504.26,240.66 504.66,246.45 505.27,242.62 505.81,247.15 506.27,242.25 506.84,246.85 507.35,242.52 507.96,247.47 508.50,242.73 509.12,247.62 509.68,242.61 510.29,245.92 510.89,242.48 511.33,247.84 511.75,242.40 512.30,246.65 512.84,243.03 513.35,246.48 513.81,242.53 514.27,247.35 514.77,242.65 515.32,246.49 515.89,242.91 516.44,247.64 517.06,241.92 517.66,247.27 518.24,241.34 518.68,246.18 519.19,243.13 519.64,247.45 520.23,242.14 520.72,246.24 521.15,243.27 521.63,245.74 522.16,241.75 522.71,247.42 523.16,243.08 523.61,246.23 524.15,241.45 524.59,245.75 525.02,242.79 525.63,247.25 526.01,242.73 526.57,246.16 526.95,241.85 527.50,246.07 527.92,241.68 528.46,246.03 528.88,242.32 529.37,246.06 529.91,242.42 530.46,245.82 530.96,242.19 531.58,245.81 532.18,242.58 532.60,246.71 533.15,242.13 533.64,246.50 534.13,242.67 534.59,245.98 535.04,242.82 535.43,246.69 536.04,242.95 536.57,246.95 537.16,242.88 537.73,245.63 538.33,242.65 538.76,245.91 539.29,242.92 539.85,247.34 540.34,242.46 540.96,246.18 541.55,242.90 542.10,246.94 542.65,243.23 543.20,245.92 543.77,241.60 544.39,247.06 545.01,242.73 545.50,246.58 546.01,242.29 546.44,246.32 546.91,242.70 547.47,246.58 547.93,241.83 548.40,247.22 548.81,242.78 549.22,245.64 549.69,242.64 550.17,246.16 550.65,241.64 551.11,245.93 551.63,242.31 552.08,245.96 552.58,242.40 552.98,246.52 553.56,241.73 554.18,246.04 554.77,243.01 555.25,246.00 555.64,241.79 556.10,246.10 556.54,242.93 557.00,245.76 557.61,243.30 558.23,246.64 558.69,242.27 559.18,247.09 559.77,242.96 560.29,245.68 560.90,241.70 561.42,247.07 562.04,241.78 562.58,246.90 563.14,243.44 563.61,245.83 564.02,242.81 564.41,246.23 564.94,242.85 565.50,246.03 566.10,241.77 566.69,245.90 567.10,243.11 567.65,246.11 568.07,242.39 568.63,246.97 569.22,242.78 569.71,247.10 570.10,243.32 570.59,246.18 571.00,242.90 571.47,245.78 571.88,243.15 572.39,246.86 572.93,243.16 573.32,245.89 573.94,242.13 574.33,246.86 574.87,242.87 575.38,245.74 575.94,242.79 576.44,245.62 577.01,243.16 577.39,246.53 577.90,242.52 578.33,247.13 578.91,243.41 579.52,246.14 580.00,243.09 580.60,246.74 581.03,243.20 581.63,247.02 582.03,242.38 582.59,246.99 583.01,242.79 583.49,245.59 584.04,241.84 584.48,247.11 585.04,243.01 585.51,245.50 586.07,241.97 586.60,245.88 587.04,241.90 587.59,245.54 588.19,243.00 588.70,247.05 589.10,242.95 589.66,245.77 590.05,243.41 590.57,245.78 591.16,243.25 591.62,245.57 592.15,243.28 592.62,245.71 593.24,243.06 593.64,245.55 594.06,243.11 594.67,245.63 595.20,242.22 595.72,245.84 596.32,242.97 596.86,245.82 597.36,243.45 597.93,245.68 598.40,243.23 598.88,245.55 599.35,242.11" fill="none" stroke="#f00" stroke-width="1.0" stroke-linejoin="miter"/>
<text x="599.9" y="210.0" font-size="13.6" text-anchor="end">Simulated (Model 1)</text>
<text x="599.9" y="235.3" font-size="13.6" text-anchor="end">42.14cm/s<tspan font-size="9.8" dy="-4.8" style="stroke-width:0.1px">2</tspan></text>
<polyline points="354.25,340.24 354.77,343.45 355.19,338.72 355.77,343.92 356.17,338.59 356.65,342.82 357.08,338.86 357.49,343.82 357.91,339.47 358.48,342.86 358.90,339.70 359.32,343.13 359.74,338.61 360.14,343.11 360.74,340.29 361.20,342.91 361.60,339.20 362.03,343.00 362.46,338.35 363.05,344.55 363.45,339.17 363.93,342.99 364.33,339.22 364.73,344.58 365.24,339.12 365.75,343.97 366.29,339.10 366.74,343.34 367.22,340.17 367.79,342.74 368.17,339.83 368.68,343.42 369.25,339.87 369.66,343.19 370.09,340.11 370.56,343.42 371.17,339.97 371.66,343.52 372.14,339.55 372.66,342.96 373.21,339.80 373.59,343.01 374.20,339.64 374.63,344.47 375.15,340.16 375.67,343.26 376.12,339.50 376.51,344.70 376.90,340.27 377.47,343.19 378.07,339.75 378.55,342.77 379.04,339.33 379.60,343.10 380.16,340.22 380.67,344.06 381.05,338.95 381.62,344.38 382.08,339.55 382.54,343.46 383.03,338.59 383.65,344.57 384.21,339.90 384.67,343.43 385.06,339.65 385.44,344.37 385.93,338.28 386.32,344.56 386.78,339.84 387.26,343.17 387.67,338.68 388.14,343.34 388.69,340.23 389.21,344.32 389.75,339.49 390.32,344.38 390.73,340.27 391.29,344.21 391.91,338.39 392.52,343.21 392.94,340.15 393.37,343.44 393.97,339.98 394.50,343.45 394.95,339.12 395.50,344.65 396.06,338.36 396.66,344.43 397.05,339.77 397.46,343.02 398.02,339.68 398.50,343.25 399.00,340.24 399.56,342.87 400.18,340.29 400.58,344.13 401.02,338.73 401.40,343.49 401.92,340.18 402.48,344.45 403.09,339.21 403.62,343.01 404.10,339.94 404.55,344.17 405.05,339.98 405.62,344.53 406.10,340.24 406.64,343.50 407.20,338.66 407.77,344.59 408.30,339.73 408.80,342.88 409.30,339.62 409.74,344.59 410.13,340.21 410.75,342.94 411.36,338.98 411.78,343.41 412.19,340.16 412.71,342.84 413.26,340.07 413.80,343.35 414.25,340.27 414.78,343.37 415.16,340.29 415.59,343.27 416.03,338.59 416.60,343.31 417.18,339.10 417.77,344.67 418.22,338.09 418.60,346.69 419.70,330.00 419.80,348.91 420.32,336.64 420.75,349.58 421.30,333.59 421.90,352.70 422.31,335.68 422.90,346.41 423.00,324.60 423.99,347.05 424.48,329.74 425.00,347.88 425.40,332.05 425.91,350.57 426.37,330.31 426.84,356.32 427.41,322.49 427.94,351.14 428.40,311.60 429.00,355.16 429.42,326.55 429.50,366.80 430.50,318.10 430.86,365.50 431.47,315.79 431.88,354.35 432.29,327.80 432.85,354.19 433.80,308.40 433.85,378.60 434.36,315.17 434.76,352.89 435.19,328.18 435.75,354.99 436.14,327.85 436.68,367.00 437.00,317.00 438.10,367.80 438.22,325.85 438.69,352.69 439.20,306.20 439.75,361.10 440.19,310.05 440.65,362.39 441.07,323.85 441.62,355.41 442.24,321.04 442.40,365.70 443.50,313.80 443.81,358.19 444.34,320.19 444.89,359.07 445.27,321.23 445.69,352.59 446.16,307.82 446.75,374.30 446.80,295.40 447.66,359.24 448.17,322.95 448.55,357.66 449.03,309.82 449.50,357.69 449.89,314.04 450.50,367.57 451.10,311.60 451.15,364.60 452.01,322.80 452.49,354.80 452.93,323.06 453.42,365.98 454.30,317.00 454.35,372.20 455.03,332.93 455.65,355.87 456.14,333.45 456.64,363.75 457.60,323.50 457.67,353.37 458.24,330.82 458.83,353.17 459.28,331.78 459.70,361.40 460.44,334.52 460.84,358.25 461.34,330.74 461.87,349.38 461.92,324.60 462.69,359.38 463.27,333.91 463.80,350.78 464.32,333.58 464.80,350.99 465.37,327.12 466.18,357.00 466.23,329.04 466.86,349.57 467.30,325.70 467.70,351.07 468.18,335.57 468.80,351.87 469.37,333.54 469.75,351.22 470.19,335.43 470.79,356.53 471.32,333.15 471.90,350.90 472.68,324.60 472.73,359.20 473.23,333.07 473.66,349.31 474.05,330.10 474.64,352.85 475.25,333.36 475.85,348.36 476.30,332.53 477.00,354.90 477.49,336.45 477.89,346.72 478.43,336.16 479.01,348.16 479.20,331.10 480.10,346.08 480.59,335.81 481.00,345.52 481.51,338.10 482.00,345.85 482.44,338.18 482.83,347.69 483.30,336.80 483.69,349.41 484.31,337.39 484.88,346.17 485.37,335.49 485.93,345.47 486.39,335.89 486.89,347.47 487.40,335.26 487.93,348.46 488.40,336.95 489.03,346.42 489.48,337.14 489.94,344.72 490.41,338.14 490.84,344.50 491.45,339.12 492.02,347.05 492.56,338.08 493.14,344.14 493.61,336.29 494.17,346.58 494.74,336.26 495.15,346.78 495.53,338.26 496.15,344.86 496.58,337.00 497.17,345.87 497.58,337.11 497.96,344.44 498.45,337.28 498.87,346.13 499.48,336.84 500.02,344.48 500.52,338.61 501.00,343.76 501.59,339.56 502.18,345.26 502.56,337.78 503.05,344.38 503.63,339.79 504.24,343.77 504.74,339.38 505.18,345.50 505.68,337.57 506.26,344.56 506.83,339.82 507.35,343.69 507.85,338.13 508.30,343.79 508.68,339.43 509.21,344.31 509.69,339.20 510.18,344.81 510.56,339.73 511.17,343.07 511.68,339.23 512.28,343.46 512.82,338.62 513.42,343.50 514.04,340.06 514.43,343.21 514.81,340.12 515.30,343.13 515.84,339.99 516.30,344.48 516.88,339.98 517.51,344.10 518.12,339.66 518.63,342.81 519.16,339.22 519.73,342.97 520.28,339.54 520.84,342.77 521.46,339.87 521.96,342.78 522.46,340.08 522.85,343.32 523.41,339.74 523.85,343.22 524.38,338.53 524.97,344.63 525.47,339.63 526.02,342.84 526.60,339.14 527.01,344.25 527.42,339.30 528.02,342.96 528.52,339.79 529.10,342.87 529.62,338.79 530.19,343.82 530.57,340.01 531.02,343.07 531.45,340.10 532.06,343.99 532.63,340.29 533.03,343.09 533.45,339.62 534.05,343.00 534.58,340.23 535.02,343.28 535.45,339.47 535.98,343.33 536.58,339.83 537.10,344.15 537.70,338.54 538.15,344.06 538.75,339.96 539.35,342.77 539.77,339.07 540.38,344.29 540.81,340.18 541.19,342.93 541.66,339.88 542.19,344.10 542.80,339.78 543.20,344.25 543.60,339.69 544.11,343.56 544.49,339.59 545.10,342.73 545.56,340.37 546.16,344.01 546.65,339.81 547.08,343.00 547.55,340.30 547.93,342.75 548.37,340.23 548.83,344.06 549.26,339.84 549.87,342.76 550.44,338.93 551.04,343.94 551.51,339.83 552.07,344.34 552.69,339.71 553.09,343.61 553.56,339.83 554.02,344.18 554.54,339.31 555.12,343.91 555.69,340.14 556.14,342.76 556.56,338.90 557.08,343.45 557.56,338.76 558.04,344.18 558.48,339.93 559.10,344.01 559.60,340.42 560.17,343.83 560.58,338.86 561.15,344.23 561.75,338.84 562.17,344.04 562.79,340.01 563.38,343.19 563.87,339.18 564.25,343.12 564.83,339.49 565.27,342.86 565.87,340.11 566.43,344.27 566.83,338.87 567.23,342.71 567.72,340.19 568.27,344.00 568.76,340.18 569.36,343.31 569.74,340.09 570.21,344.05 570.74,339.92 571.27,342.82 571.85,340.05 572.40,342.64 572.91,340.30 573.38,342.98 574.00,339.90 574.48,342.92 574.98,340.40 575.41,343.46 575.81,340.19 576.38,342.89 576.76,338.89 577.18,343.06 577.58,339.09 578.00,343.83 578.50,339.60 578.94,342.53 579.55,339.53 580.02,342.66 580.49,339.12 581.06,342.67 581.69,339.73 582.22,342.56 582.84,340.45 583.36,343.14 583.85,339.32 584.40,343.95 585.02,339.87 585.62,342.55 586.12,340.05 586.63,344.13 587.08,339.40 587.59,342.62 588.21,339.18 588.76,343.69 589.22,340.44 589.71,343.02 590.29,338.94 590.74,342.78 591.23,339.85 591.68,342.79 592.24,339.48 592.63,342.67 593.21,340.07 593.67,342.50 594.19,340.29 594.73,343.84 595.16,339.46 595.60,342.50 596.06,340.46 596.56,342.84 597.18,340.25 597.71,342.84 598.34,339.28 598.86,342.61 599.35,339.22" fill="none" stroke="#00f" stroke-width="1.0" stroke-linejoin="miter"/>
<text x="599.9" y="307.0" font-size="13.6" text-anchor="end">Simulated (Model 2)</text>
<text x="599.9" y="332.3" font-size="13.6" text-anchor="end">55.89cm/s<tspan font-size="9.8" dy="-4.8" style="stroke-width:0.1px">2</tspan></text>
<path d="M352.90 390.6H600.30" stroke="#000" stroke-width="1.5"/>
<path d="M353.65 386.2V390.6" stroke="#000" stroke-width="1.5"/>
<text x="353.9" y="411" font-size="17" text-anchor="middle">0</text>
<path d="M402.83 386.2V390.6" stroke="#000" stroke-width="1.5"/>
<text x="403.1" y="411" font-size="17" text-anchor="middle">20</text>
<path d="M452.01 386.2V390.6" stroke="#000" stroke-width="1.5"/>
<text x="452.3" y="411" font-size="17" text-anchor="middle">40</text>
<path d="M501.19 386.2V390.6" stroke="#000" stroke-width="1.5"/>
<text x="501.5" y="411" font-size="17" text-anchor="middle">60</text>
<path d="M550.37 386.2V390.6" stroke="#000" stroke-width="1.5"/>
<text x="550.7" y="411" font-size="17" text-anchor="middle">80</text>
<path d="M599.55 386.2V390.6" stroke="#000" stroke-width="1.5"/>
<text x="599.8" y="411" font-size="17" text-anchor="middle">100</text>
<text x="477.8" y="434.5" font-size="17.4" text-anchor="middle">Time(sec)</text>
</svg></body></html>
